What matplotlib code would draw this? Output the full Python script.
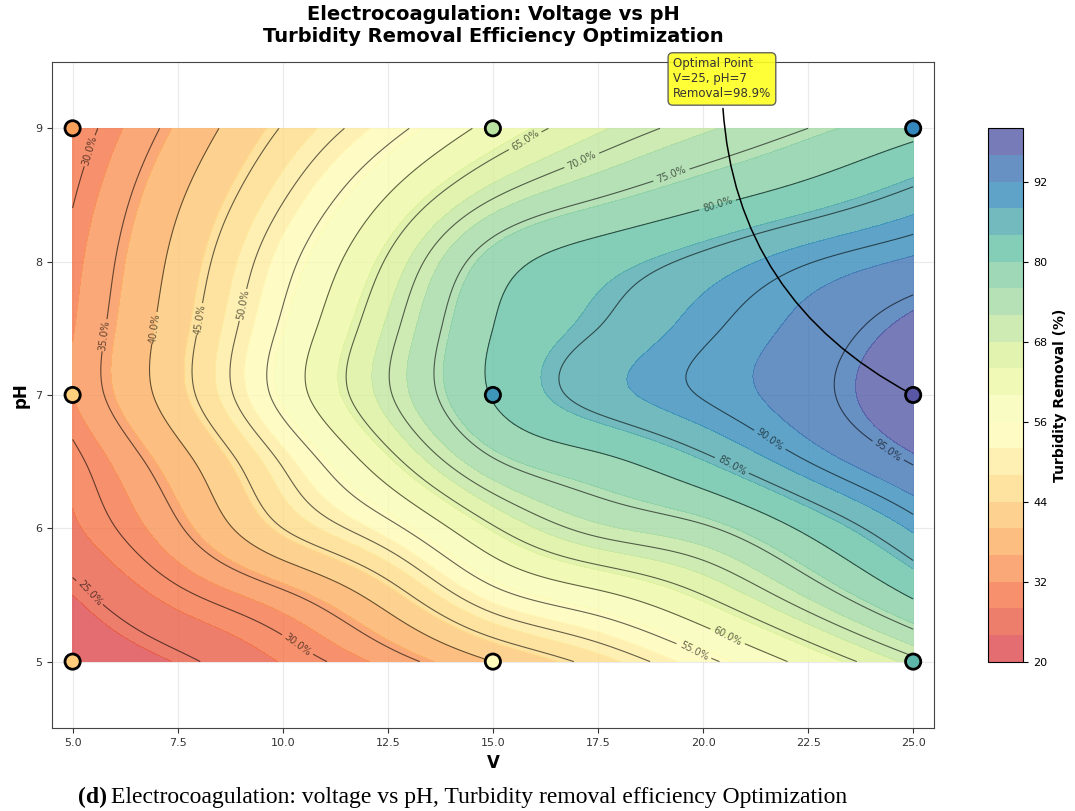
import numpy as np
import matplotlib
matplotlib.use("Agg")
import matplotlib.pyplot as plt
from matplotlib.colors import Normalize

# Response-surface grid: turbidity removal (%) over voltage (V) and pH
voltage_grid = [5.0, 7.5, 10.0, 12.5, 15.0, 17.5, 20.0, 22.5, 25.0]
ph_grid = [5.0, 5.5, 6.0, 6.5, 7.0, 7.5, 8.0, 8.5, 9.0]
removal_ph50 = [21.0, 24.2, 28.2, 33.0, 40.0, 46.5, 53.8, 61.5, 69.0]
removal_ph55 = [24.0, 29.2, 34.2, 42.6, 53.4, 59.0, 65.0, 72.5, 80.6]
removal_ph60 = [27.5, 34.5, 45.0, 53.5, 64.5, 71.3, 74.4, 81.0, 88.5]
removal_ph65 = [29.0, 38.2, 50.5, 63.2, 74.5, 78.8, 83.8, 90.0, 95.3]
removal_ph70 = [32.0, 42.8, 56.7, 69.5, 80.3, 86.5, 90.2, 93.8, 98.9]
removal_ph75 = [31.8, 42.6, 55.8, 68.6, 80.0, 85.0, 89.3, 93.0, 97.0]
removal_ph80 = [31.0, 41.3, 53.3, 65.5, 77.5, 82.5, 86.0, 89.8, 92.5]
removal_ph85 = [29.7, 39.3, 49.5, 60.0, 69.5, 74.6, 78.3, 81.8, 85.9]
removal_ph90 = [28.0, 36.5, 45.3, 53.3, 61.5, 67.5, 71.5, 75.0, 78.5]

# Experimental runs
run_voltage = [5, 15, 25, 5, 15, 25, 5, 15, 25]
run_ph = [5, 5, 5, 7, 7, 7, 9, 9, 9]
run_removal = [43.0, 55.0, 84.0, 44.0, 89.0, 98.9, 36.0, 71.0, 91.0]

opt_v, opt_ph, opt_removal = 25, 7, 98.9

removal_rows = [removal_ph50, removal_ph55, removal_ph60, removal_ph65,
                removal_ph70, removal_ph75, removal_ph80, removal_ph85,
                removal_ph90]


def natural_spline(x, y, xq):
    """Evaluate a natural cubic spline through (x, y) at xq."""
    x = np.asarray(x, float)
    y = np.asarray(y, float)
    n = len(x)
    h = np.diff(x)
    A = np.zeros((n, n))
    r = np.zeros(n)
    A[0, 0] = A[-1, -1] = 1.0
    for i in range(1, n - 1):
        A[i, i - 1] = h[i - 1]
        A[i, i] = 2 * (h[i - 1] + h[i])
        A[i, i + 1] = h[i]
        r[i] = 6 * ((y[i + 1] - y[i]) / h[i] - (y[i] - y[i - 1]) / h[i - 1])
    M = np.linalg.solve(A, r)
    k = np.clip(np.searchsorted(x, xq) - 1, 0, n - 2)
    t0 = x[k + 1] - xq
    t1 = xq - x[k]
    hk = h[k]
    return (M[k] * t0 ** 3 / (6 * hk) + M[k + 1] * t1 ** 3 / (6 * hk)
            + (y[k] / hk - M[k] * hk / 6) * t0
            + (y[k + 1] / hk - M[k + 1] * hk / 6) * t1)


ZZ = np.array(removal_rows)
vf = np.linspace(min(voltage_grid), max(voltage_grid), 300)
pf = np.linspace(min(ph_grid), max(ph_grid), 300)
# Spline along voltage for every pH row, then along pH for every column
rows_fine = np.array([natural_spline(voltage_grid, row, vf) for row in ZZ])
ZF = np.array([natural_spline(ph_grid, rows_fine[:, j], pf)
               for j in range(len(vf))]).T
VF, PF = np.meshgrid(vf, pf)

fig = plt.figure(figsize=(10.75, 8.11), dpi=100)
ax = fig.add_axes([0.048, 0.102, 0.821, 0.822])
cax = fig.add_axes([0.919, 0.184, 0.033, 0.658])

ax.grid(True, color="#dddddd", linewidth=0.8, alpha=0.6)
ax.set_axisbelow(True)

norm = Normalize(vmin=11, vmax=100)
fill_levels = np.linspace(20, 100, 21)
cf = ax.contourf(VF, PF, ZF, levels=fill_levels, cmap="Spectral",
                 norm=norm, alpha=0.8)
line_levels = np.arange(25, 100, 5)
cs = ax.contour(VF, PF, ZF, levels=line_levels, colors="black",
                linewidths=0.8, alpha=0.6)
ax.clabel(cs, inline=True, fontsize=7, fmt="%.1f%%")

ax.scatter(run_voltage, run_ph, c=run_removal, cmap="Spectral",
           norm=norm, s=120, edgecolors="black", linewidths=2,
           zorder=6)

ax.annotate(f"Optimal Point\nV={opt_v}, pH={opt_ph}\nRemoval={opt_removal}%",
            xy=(opt_v, opt_ph), xytext=(20.45, 9.37),
            ha="center", va="center", fontsize=8.5, color="#333333",
            bbox=dict(boxstyle="round,pad=0.4", fc="#ffff22",
                      ec="#555555", alpha=0.9),
            arrowprops=dict(arrowstyle="-", color="black", lw=1.1,
                            connectionstyle="arc3,rad=0.3"),
            zorder=5, multialignment="left")

ax.set_xlim(4.5, 25.5)
ax.set_ylim(4.5, 9.5)
ax.set_xticks(np.arange(5, 25.1, 2.5))
ax.set_xticklabels([f"{t:.1f}" for t in np.arange(5, 25.1, 2.5)])
ax.set_yticks([5, 6, 7, 8, 9])
ax.tick_params(labelsize=8, colors="#333333")
ax.set_xlabel("V", fontsize=12, fontweight="bold")
ax.set_ylabel("pH", fontsize=12, fontweight="bold")
for sp in ax.spines.values():
    sp.set_color("#444444")

ax.set_title("Electrocoagulation: Voltage vs pH\n"
             "Turbidity Removal Efficiency Optimization",
             fontsize=14, fontweight="bold", pad=14)

cb = fig.colorbar(cf, cax=cax)
cb.set_label("Turbidity Removal (%)", fontsize=10, fontweight="bold")
cb.ax.tick_params(labelsize=8)

# Caption under the figure
cap_bold = fig.text(0.073, 0.017, "(d)", fontsize=17, fontweight="bold",
                    family="Liberation Serif", va="center", ha="left")
fig.canvas.draw()
bb = cap_bold.get_window_extent()
x_next = (bb.x1 + 4) / fig.bbox.width
fig.text(x_next, 0.017,
         "Electrocoagulation: voltage vs pH, Turbidity removal efficiency Optimization",
         fontsize=17, family="Liberation Serif", va="center", ha="left")

fig.savefig("out.png", dpi=100)
